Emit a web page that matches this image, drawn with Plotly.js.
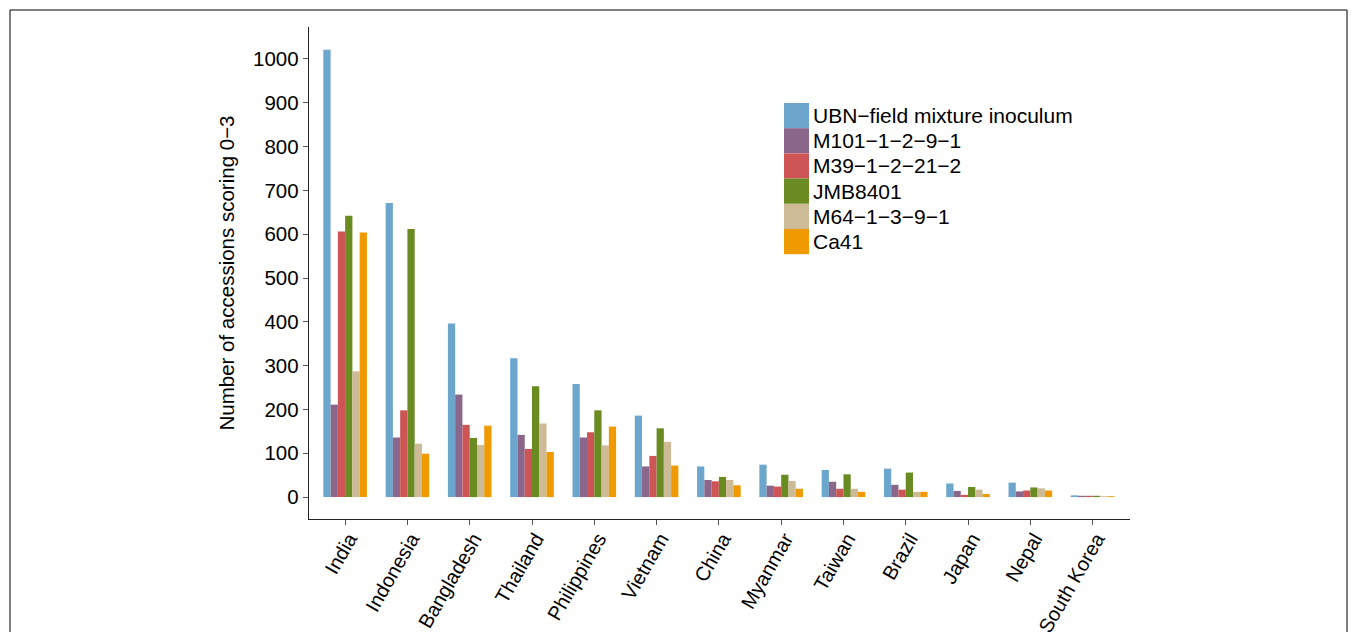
<!DOCTYPE html>
<html>
<head>
<meta charset="utf-8">
<script src="https://cdn.plot.ly/plotly-3.0.1.min.js"></script>
<style>html,body{margin:0;padding:0;background:#fff;}#chart{width:1357px;height:632px;}</style>
</head>
<body>
<div id="chart"></div>
<script>
const countries = ["India","Indonesia","Bangladesh","Thailand","Philippines","Vietnam","China","Myanmar","Taiwan","Brazil","Japan","Nepal","South Korea"];
const seriesNames = ["UBN\u2212field mixture inoculum","M101\u22121\u22122\u22129\u22121","M39\u22121\u22122\u221221\u22122","JMB8401","M64\u22121\u22123\u22129\u22121","Ca41"];
const ubn   = [1021, 671, 396, 317, 258, 186, 70, 74, 62, 65, 31, 33, 4];
const m101  = [211, 136, 234, 142, 136, 70, 39, 26, 35, 28, 14, 13, 3];
const m39   = [606, 198, 165, 110, 148, 94, 36, 24, 19, 17, 5, 15, 3];
const jmb   = [642, 612, 135, 253, 198, 157, 46, 51, 52, 56, 23, 22, 3];
const m64   = [287, 122, 119, 168, 118, 126, 39, 37, 19, 12, 17, 20, 2];
const ca41  = [604, 99, 163, 103, 161, 72, 27, 19, 12, 12, 7, 15, 2];
const yTicks = [0,100,200,300,400,500,600,700,800,900,1000];
const colors = ["#6CA6CD","#8B668B","#CD5555","#698B22","#CDBA96","#EE9A00"];
const allSeries = [ubn, m101, m39, jmb, m64, ca41];

const font = "Arial, 'Liberation Sans', Helvetica, sans-serif";
const traces = allSeries.map((vals, i) => ({
  type: "bar", x: countries, y: vals, name: seriesNames[i],
  marker: {color: colors[i], line: {width: 0}}, showlegend: false, hoverinfo: "x+y+name"
}));

// plot area in pixels
const L = 309, R = 1130, T = 27, B = 519;
const px = v => (v - L) / (R - L);
const py = v => (B - v) / (B - T);

const shapes = [
  {type: "rect", xref: "paper", yref: "paper", x0: px(10), x1: px(1347), y0: py(700), y1: py(10),
   line: {color: "#000", width: 1}, fillcolor: "rgba(0,0,0,0)", layer: "below"}
];
const annotations = [];
const keyX0 = 784, keyX1 = 809, keyTop = 103, keyH = 25.2;
seriesNames.forEach((n, i) => {
  const y0 = keyTop + i * keyH;
  shapes.push({type: "rect", xref: "paper", yref: "paper", x0: px(keyX0), x1: px(keyX1),
    y0: py(y0 + keyH), y1: py(y0), fillcolor: colors[i], line: {width: 0}});
  annotations.push({xref: "paper", yref: "paper", x: px(811), y: py(y0 + keyH / 2),
    xanchor: "left", yanchor: "middle", text: n, showarrow: false,
    font: {family: font, size: 21, color: "#000"}});
});

const layout = {
  width: 1357, height: 632,
  margin: {l: L, r: 1357 - R, t: T, b: 632 - B, pad: 0},
  paper_bgcolor: "#fff", plot_bgcolor: "#fff",
  barmode: "group", bargap: 0.3, bargroupgap: 0,
  font: {family: font, color: "#000"},
  xaxis: {type: "category", range: [-0.58, 12.6], showline: true, linecolor: "#222", linewidth: 1.3,
    ticks: "outside", ticklen: 5, tickcolor: "#555", tickwidth: 1, tickangle: -60,
    ticklabelstandoff: -6, ticklabelshift: 4,
    tickfont: {family: font, size: 20, color: "#000"}, showgrid: false, zeroline: false, fixedrange: true},
  yaxis: {range: [-50, 1073], tickvals: yTicks, ticktext: yTicks.map(String), showline: true, linecolor: "#222", linewidth: 1.3,
    ticks: "outside", ticklen: 5, tickcolor: "#555", tickwidth: 1,
    tickfont: {family: font, size: 20.5, color: "#000"}, showgrid: false, zeroline: false,
    title: {text: "Number of accessions scoring 0\u22123", font: {family: font, size: 20.5, color: "#000"}, standoff: 12},
    fixedrange: true},
  shapes: shapes, annotations: annotations, showlegend: false
};
Plotly.newPlot("chart", traces, layout, {displayModeBar: false, staticPlot: true});
</script>
</body>
</html>
